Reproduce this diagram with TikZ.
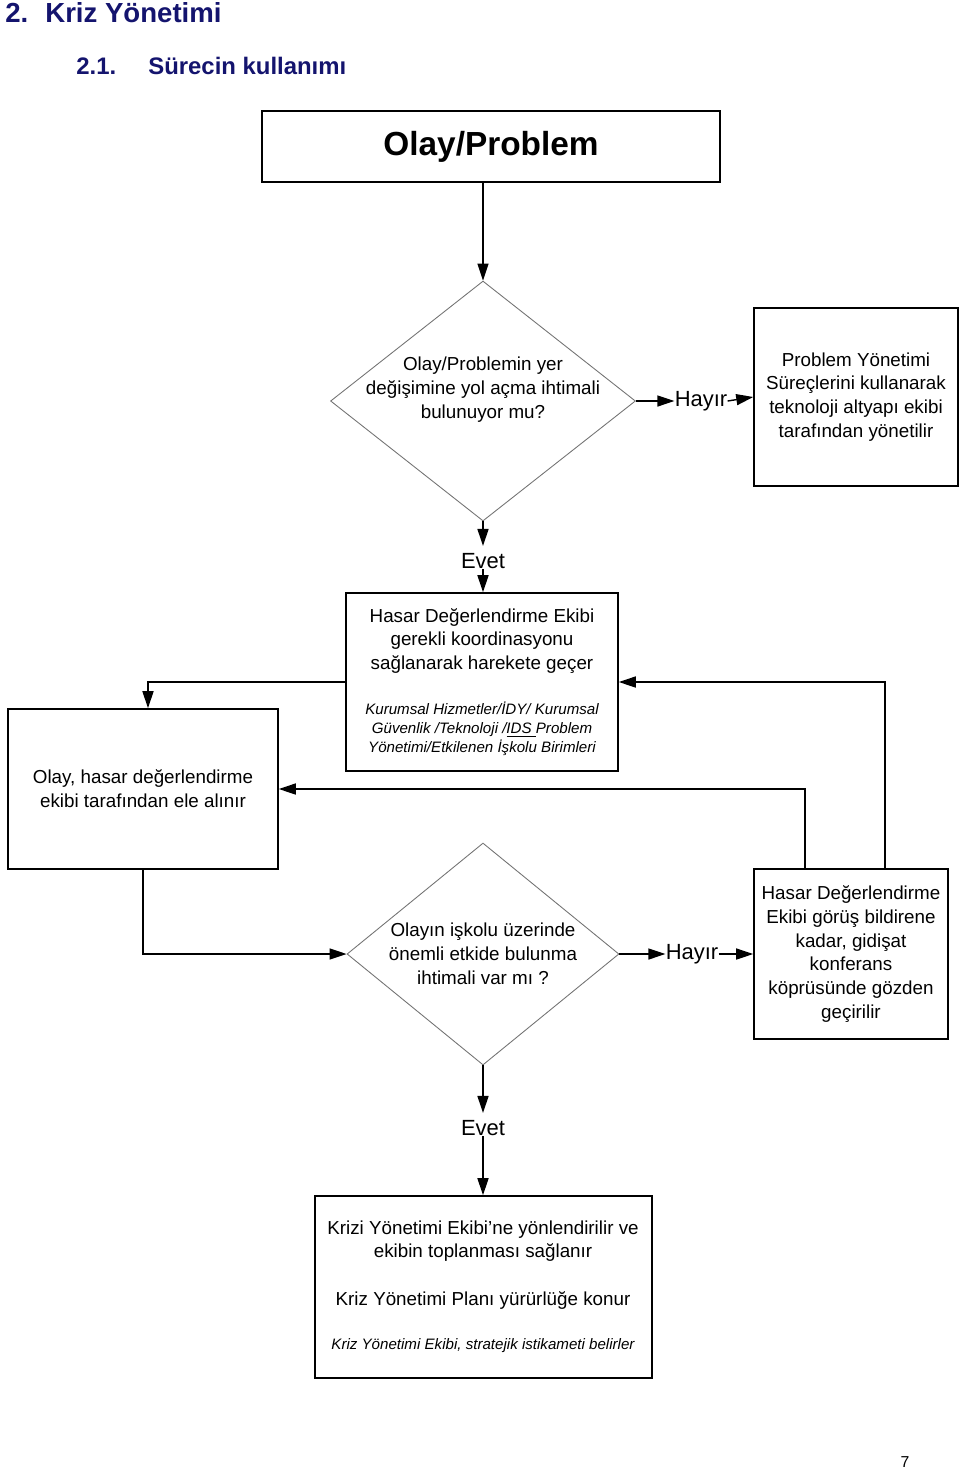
\documentclass[tikz,border=0pt]{standalone}
\usepackage{fontspec}
\setmainfont{Liberation Sans}
\usetikzlibrary{arrows.meta,positioning,shapes.geometric}
\definecolor{baslik}{RGB}{20,20,110}

\begin{document}
\begin{tikzpicture}[x=0.02cm,y=-0.02cm,font=\fontsize{10.7}{13.6}\selectfont,
  box/.style={draw,line width=0.9pt,inner sep=0pt,align=center},
  rhomb/.style={diamond,draw=black!55,line width=0.5pt,inner sep=0pt},
  txt/.style={align=center,inner sep=0pt},
  small/.style={align=center,inner sep=0pt,font=\fontsize{8.6}{10.8}\selectfont\itshape},
  lab/.style={inner sep=0pt,font=\fontsize{12.5}{15}\selectfont},
  head/.style={anchor=base west,inner sep=0pt,text=baslik,font=\bfseries},
  arr/.style={line width=0.8pt,-{Triangle[length=0.34cm,width=0.22cm]}}]
\useasboundingbox (0,0) rectangle (960,1468);

% headings
\node[head,font=\fontsize{15.7}{18}\selectfont\bfseries] (n2) at (5,22) {2.};
\node[head,font=\fontsize{15.7}{18}\selectfont\bfseries] (kriz) at (45,22) {Kriz Yönetimi};
\node[head,font=\fontsize{13.6}{16}\selectfont\bfseries] (n21) at (76,74) {2.1.};
\node[head,font=\fontsize{13.6}{16}\selectfont\bfseries] (surec) at (148,74) {Sürecin kullanımı};

% boxes and decisions
\node[box,minimum width=9.16cm,minimum height=1.42cm,font=\fontsize{19}{23}\selectfont\bfseries] (b1) at (491,146.5) {Olay/Problem};
\node[rhomb,minimum width=6.1cm,minimum height=4.8cm] (d1) at (483,401) {};
\node[txt] (q1) at (483,390) {Olay/Problemin yer\\değişimine yol açma ihtimali\\bulunuyor mu?};
\node[lab] (h1) at (701,401) {Hayır};
\node[box,minimum width=4.08cm,minimum height=3.56cm] (b2) at (856,397) {Problem Yönetimi\\Süreçlerini kullanarak\\teknoloji altyapı ekibi\\tarafından yönetilir};
\node[lab] (e1) at (483,561) {Evet};

\node[box,minimum width=5.44cm,minimum height=3.56cm] (b3) at (482,682) {};
\node[txt] (t3a) at (482,641) {Hasar Değerlendirme Ekibi\\gerekli koordinasyonu\\sağlanarak harekete geçer};
\node[small] (t3b) at (482,729) {Kurumsal Hizmetler/İDY/ Kurumsal\\Güvenlik /Teknoloji /\underline{IDS\ }Problem\\Yönetimi/Etkilenen İşkolu Birimleri};
\node[box,minimum width=5.4cm,minimum height=3.2cm] (b4) at (143,789) {Olay, hasar değerlendirme\\ekibi tarafından ele alınır};

\node[rhomb,minimum width=5.44cm,minimum height=4.44cm] (d2) at (483,954) {};
\node[txt] (q2) at (483,954) {Olayın işkolu üzerinde\\önemli etkide bulunma\\ihtimali var mı ?};
\node[lab] (h2) at (692,954) {Hayır};
\node[box,minimum width=3.88cm,minimum height=3.4cm] (b5) at (851,954) {Hasar Değerlendirme\\Ekibi görüş bildirene\\kadar, gidişat\\konferans\\köprüsünde gözden\\geçirilir};
\node[lab] (e2) at (483,1128) {Evet};

\node[box,minimum width=6.74cm,minimum height=3.64cm] (b6) at (483.5,1287) {};
\node[txt] (t6a) at (483,1265) {Krizi Yönetimi Ekibi’ne yönlendirilir ve\\ekibin toplanması sağlanır\\[13.6pt]Kriz Yönetimi Planı yürürlüğe konur};
\node[small] (t6b) at (483,1346) {Kriz Yönetimi Ekibi, stratejik istikameti belirler};

\node[inner sep=0pt,font=\fontsize{9}{11}\selectfont] (sayfa) at (905,1462) {7};

% connectors
\draw[arr] (d1.north |- b1.south) -- (d1.north);
\draw[arr] (d1.east) -- (h1.west);
\draw[arr] (h1.east) -- (b2.west);
\draw[arr] (d1.south) -- ([yshift=4pt]e1.north);
\draw[arr] (e1.south) -- (e1.south |- b3.north);
\draw[arr] (b3.west) -| ([xshift=0.1cm]b4.north);
\draw[arr] ([xshift=0.68cm]b5.north) |- (b3.east);
\draw[arr] ([xshift=-0.92cm]b5.north) |- (b4.east);
\draw[arr] (b4.south) |- (d2.west);
\draw[arr] (d2.east) -- (h2.west);
\draw[arr] (h2.east) -- (b5.west);
\draw[arr] (d2.south) -- ([yshift=4pt]e2.north);
\draw[arr] (e2.south) -- (e2.south |- b6.north);
\end{tikzpicture}
\end{document}
